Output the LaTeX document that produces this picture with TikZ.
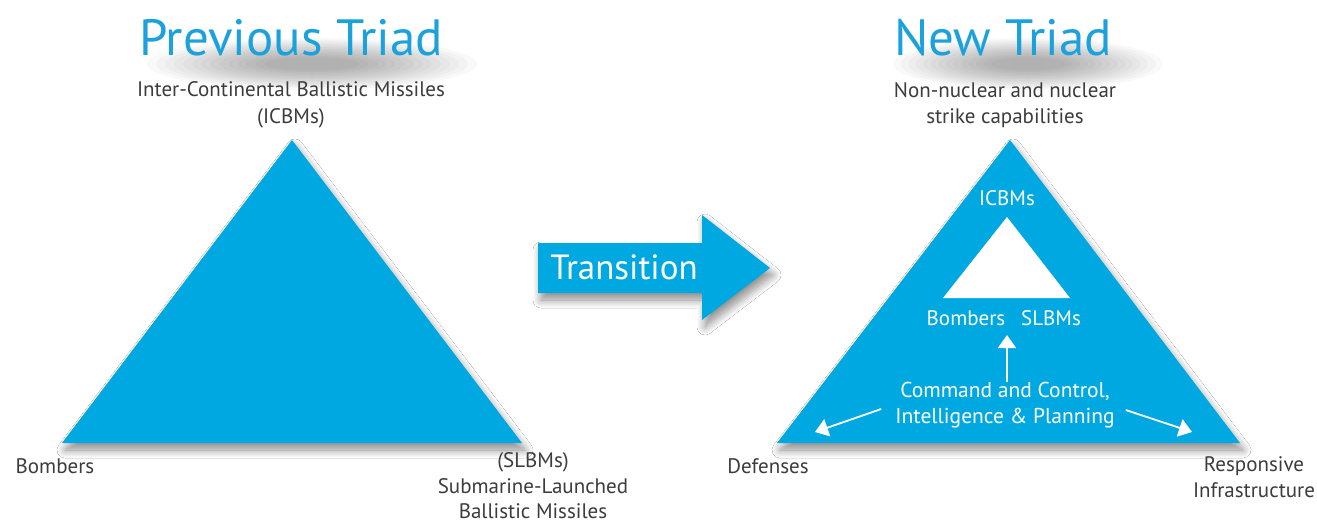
\documentclass[tikz,border=0pt]{standalone}
\usepackage{fontspec}
\setmainfont{PT Sans}
\usetikzlibrary{arrows.meta,shadows.blur}
\definecolor{triblue}{HTML}{00A8E1}
\definecolor{titleblue}{HTML}{1BA1DB}
\definecolor{txtgray}{HTML}{3C3C3C}
\begin{document}
\begin{tikzpicture}[x=1pt,y=-1pt,
  lbl/.style={text=txtgray,font=\fontsize{21}{26.5}\selectfont,align=center,inner sep=0pt},
  wlbl/.style={text=white,font=\fontsize{21}{26}\selectfont,align=center,inner sep=0pt},
  ttl/.style={text=titleblue,font=\fontsize{51}{55}\selectfont,inner sep=0pt},
  shade/.style={blur shadow={shadow blur steps=12,shadow xshift=3pt,shadow yshift=-7pt,shadow opacity=45,shadow blur radius=8pt}},
  warrow/.style={white,line width=1.8pt,-{Triangle[width=18pt,length=13pt]}}]
\useasboundingbox (0,0) rectangle (1317,523);
\fill[white] (0,0) rectangle (1317,523);
% title shadows (soft)
\foreach \i in {0,...,13} {
  \fill[black,opacity=0.025] (312,64) ellipse ({165-\i*9} and {26-\i*1.5});
  \fill[black,opacity=0.025] (1028,64) ellipse ({135-\i*7.5} and {26-\i*1.5});
}
% left triangle
\coordinate (LA) at (292,140);
\coordinate (LB) at (62,443);
\coordinate (LC) at (522,443);
\fill[triblue,shade] (LA) -- (LB) -- (LC) -- cycle;
\node[ttl] (t1) at (291,38) {Previous Triad};
\node[lbl] (icbm) at (291,105) {Inter-Continental Ballistic Missiles\\(ICBMs)};
\node[lbl] (bomb) at (55,466) {Bombers};
\node[lbl,font=\fontsize{21}{25.5}\selectfont] (slbm) at (533,486) {(SLBMs)\\Submarine-Launched\\Ballistic Missiles};
% transition arrow
\path[fill=triblue,shade] (538,243) -- (702,243) -- (702,215) -- (770,268) -- (702,320) -- (702,293) -- (538,293) -- cycle;
\node[wlbl,font=\fontsize{35}{38}\selectfont] (trans) at (624,267) {Transition};
% right triangle
\coordinate (RA) at (1010,140);
\coordinate (RB) at (777,443);
\coordinate (RC) at (1240,443);
\fill[triblue,shade] (RA) -- (RB) -- (RC) -- cycle;
\coordinate (IA) at (1007,217);
\coordinate (IB) at (943,298);
\coordinate (IC) at (1070,298);
\fill[white] (IA) -- (IB) -- (IC) -- cycle;
\node[ttl] (t2) at (1003,38) {New Triad};
\node[lbl] (strike) at (1005,105) {Non-nuclear and nuclear\\strike capabilities};
\node[wlbl] (icbm2) at (1007,198) {ICBMs};
\node[wlbl] (bomb2) at (966,318) {Bombers};
\node[wlbl] (slbm2) at (1051,318) {SLBMs};
\node[wlbl,font=\fontsize{21.5}{26}\selectfont] (cc) at (1005,405) {Command and Control,\\Intelligence \& Planning};
\node[lbl] (def) at (768,466) {Defenses};
\node[lbl] (resp) at (1254,477) {Responsive\\Infrastructure};
% arrows
\coordinate (upTip) at (1007,335);
\coordinate (lTip) at (815,432);
\coordinate (rTip) at (1192,432);
\draw[warrow] (cc.north -| upTip) -- (upTip);
\draw[warrow] ([xshift=-14pt,yshift=-4pt]cc.west) -- (lTip);
\draw[warrow] ([xshift=11pt,yshift=-5pt]cc.east) -- (rTip);
\end{tikzpicture}
\end{document}
